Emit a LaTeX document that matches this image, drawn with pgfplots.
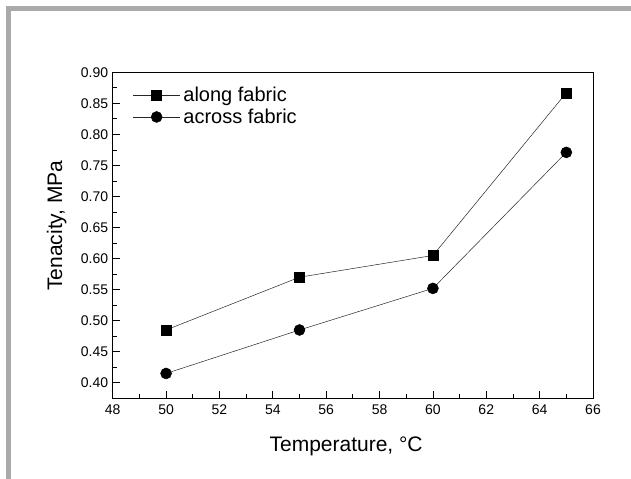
\documentclass[border=0pt]{standalone}
\usepackage{pgfplots}
\pgfplotsset{compat=1.18}
\usepackage{fontspec}
\setmainfont{Liberation Sans}
\definecolor{framegray}{RGB}{170,170,172}
\begin{document}
\begin{tikzpicture}[x=1bp,y=1bp]
\useasboundingbox (0,0) rectangle (631,479);
\fill[white] (0,0) rectangle (631,479);
\fill[framegray] (6,0) rectangle (11,473);
\fill[framegray] (6,468) rectangle (631,473);
\begin{axis}[at={(112.7bp,80.7bp)},anchor=south west,scale only axis,width=480.3bp,height=326bp,
  xmin=48,xmax=66,ymin=0.375,ymax=0.9,
  xtick={48,50,...,66},ytick={0.40,0.45,...,0.90},
  minor x tick num=1,minor y tick num=1,
  tick align=inside,xtick pos=bottom,ytick pos=left,
  major tick length=7bp,minor tick length=4bp,
  axis line style={line width=0.9bp},every tick/.style={black,line width=0.8bp},
  /pgf/number format/assume math mode=true,
  tick label style={font=\fontsize{14bp}{16bp}\selectfont},
  xticklabel style={yshift=-3bp},
  yticklabel style={xshift=-1bp,/pgf/number format/.cd,fixed,fixed zerofill,precision=2},
  label style={font=\fontsize{21bp}{24bp}\selectfont},
  xlabel={Temperature, °C},ylabel={Tenacity, MPa},
  xlabel style={at={(axis description cs:0.486,0)},anchor=center,yshift=-48.4bp},
  ylabel style={at={(axis description cs:-0.1166,0.53)},anchor=center},
  legend style={at={(axis description cs:0,1)},anchor=north west,xshift=20bp,yshift=-14bp,
    draw=none,fill=none,font=\fontsize{20bp}{22bp}\selectfont,inner sep=0pt,
    nodes={inner sep=1bp},row sep=3.5bp,column sep=2bp},
  legend cell align=left,
  legend image code/.code={\draw[mark repeat=2,mark phase=2,#1] plot coordinates {(0bp,0bp) (23.5bp,0bp) (47bp,0bp)};}]
\addplot[black!85,line width=0.5bp,mark=square*,mark size=5bp,mark options={solid,fill=black,draw=black}] coordinates {(50,0.485) (55,0.570) (60,0.605) (65,0.867)};
\addlegendentry{along fabric}
\addplot[black!85,line width=0.5bp,mark=*,mark size=5.5bp,mark options={solid,fill=black,draw=black}] coordinates {(50,0.415) (55,0.485) (60,0.552) (65,0.771)};
\addlegendentry{across fabric}
\end{axis}
\end{tikzpicture}
\end{document}
